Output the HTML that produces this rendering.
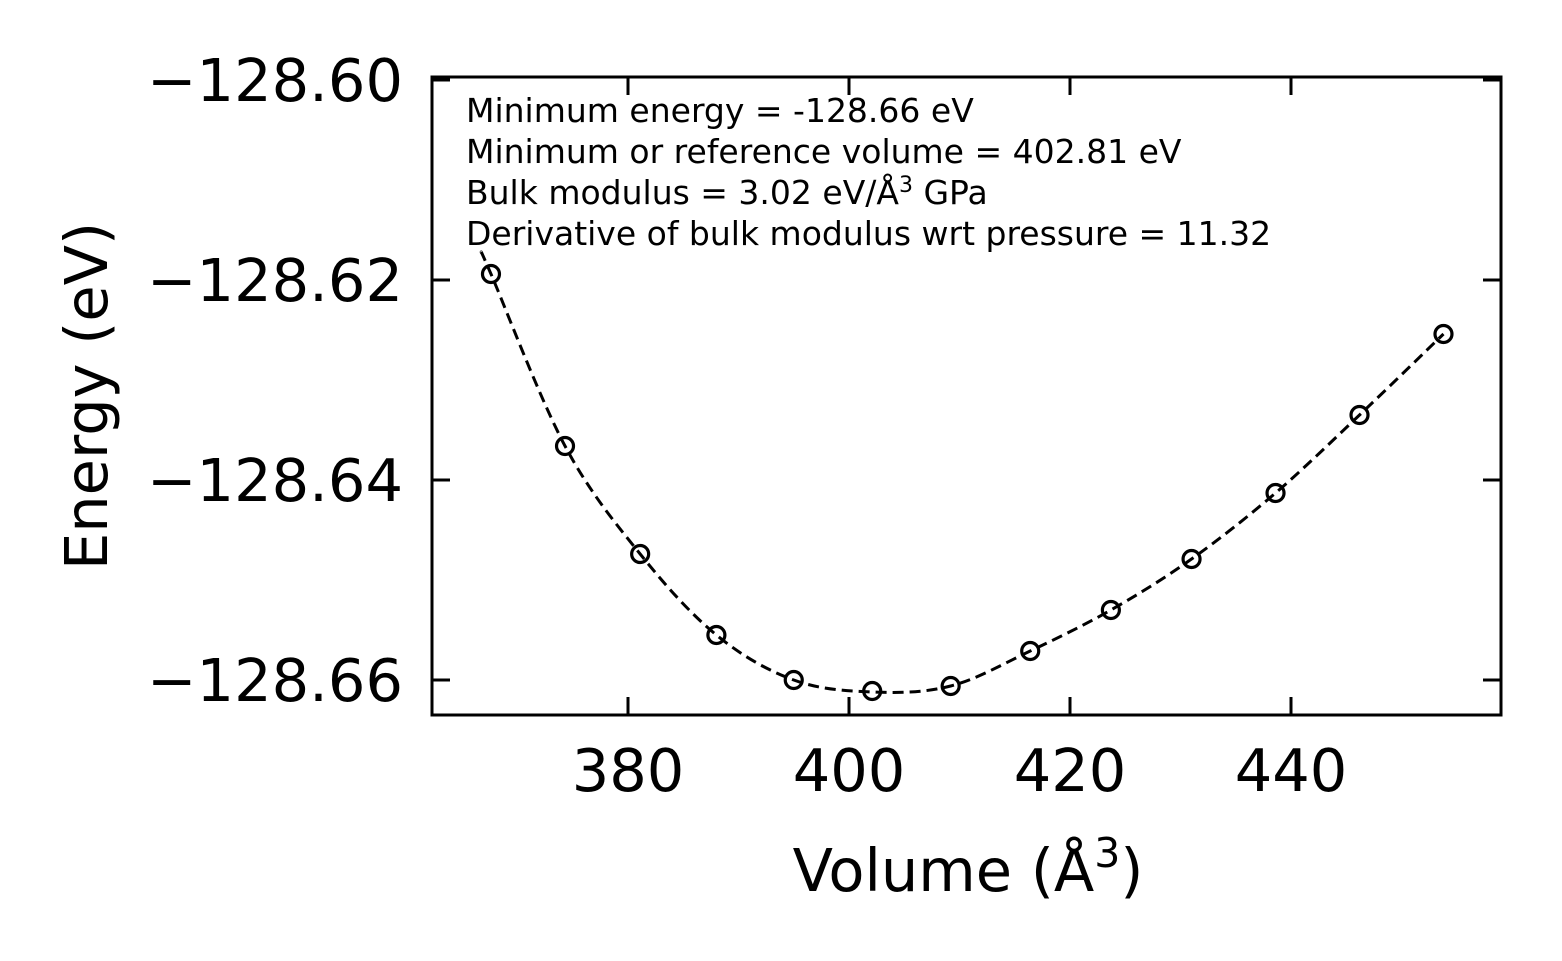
<!DOCTYPE html>
<html><head><meta charset="utf-8"><style>
html,body{margin:0;padding:0;background:#fff;}
svg{display:block;font-family:"DejaVu Sans","Liberation Sans",sans-serif;}
</style></head><body>
<svg id="chart" width="1562" height="961" viewBox="0 0 1562 961">
<g id="plot"></g>
</svg>
<script>
const volumes=[367.6,374.3,381.1,388.0,395.0,402.1,409.2,416.4,423.7,431.0,438.6,446.2,453.8];
const energies=[-128.6194,-128.6366,-128.6474,-128.6555,-128.6600,-128.6611,-128.6606,-128.6571,-128.6530,-128.6479,-128.6413,-128.6335,-128.6254];
const fitVolumes=[366.7,367.6,374.3,381.1,388.0,395.0,402.1,409.2,416.4,423.7,431.0,438.6,446.2,453.8];
const fitEnergies=[-128.6172,-128.6194,-128.6366,-128.6474,-128.6555,-128.6600,-128.6612,-128.6606,-128.6571,-128.6530,-128.6479,-128.6413,-128.6335,-128.6254];
const xTicks=[380,400,420,440];
const yTicks=[-128.60,-128.62,-128.64,-128.66];
const yTickLabels=["\u2212128.60","\u2212128.62","\u2212128.64","\u2212128.66"];
const notes=["Minimum energy = -128.66 eV","Minimum or reference volume = 402.81 eV","Bulk modulus = 3.02 eV/Å\u00B3 GPa","Derivative of bulk modulus wrt pressure = 11.32"];

const L=432,R=1501,T=77,B=715;
const xs=v=>628+(v-380)*11.05;
const ys=e=>80-(e+128.60)*10000;
const NS="http://www.w3.org/2000/svg";
const g=document.getElementById('plot');
function mk(t,a){const el=document.createElementNS(NS,t);for(const k in a)el.setAttribute(k,a[k]);g.appendChild(el);return el;}

const P=fitVolumes.map((v,i)=>[xs(v),ys(fitEnergies[i])]);
let d=`M${P[0][0]},${P[0][1]}`;
for(let i=0;i<P.length-1;i++){const p0=P[i-1]||P[i],p1=P[i],p2=P[i+1],p3=P[i+2]||P[i+1];
d+=` C${p1[0]+(p2[0]-p0[0])/6},${p1[1]+(p2[1]-p0[1])/6} ${p2[0]-(p3[0]-p1[0])/6},${p2[1]-(p3[1]-p1[1])/6} ${p2[0]},${p2[1]}`;}
const curve=mk('path',{d:d,fill:'none',stroke:'#000','stroke-width':3,'stroke-dasharray':'11,6'});



volumes.forEach((v,i)=>{const c=mk('circle',{cx:xs(v),cy:ys(energies[i]),r:8.5,fill:'none',stroke:'#000','stroke-width':3.2});

});

const frame=mk('rect',{x:L,y:T,width:R-L,height:B-T,fill:'none',stroke:'#000','stroke-width':3});



xTicks.forEach(v=>{const x=xs(v);
mk('line',{x1:x,y1:B,x2:x,y2:B-18,stroke:'#000','stroke-width':3});
mk('line',{x1:x,y1:T,x2:x,y2:T+18,stroke:'#000','stroke-width':3});
const t=mk('text',{x:x,y:791,'font-size':59,'text-anchor':'middle'});t.textContent=v;

});

yTicks.forEach((v,i)=>{const y=ys(v);
mk('line',{x1:L,y1:y,x2:L+18,y2:y,stroke:'#000','stroke-width':3});
mk('line',{x1:R,y1:y,x2:R-18,y2:y,stroke:'#000','stroke-width':3});
const t=mk('text',{x:403,y:y+21,'font-size':59,'text-anchor':'end'});t.textContent=yTickLabels[i];

});

const xl=mk('text',{x:968,y:891,'font-size':59,'text-anchor':'middle'});
xl.innerHTML='Volume (Å<tspan font-size="41" dy="-24">3</tspan><tspan dy="24">)</tspan>';



const yl=mk('text',{x:0,y:0,'font-size':59,'text-anchor':'middle',transform:'translate(107,396) rotate(-90)'});
yl.textContent='Energy (eV)';



notes.forEach((s,i)=>{const t=mk('text',{x:466,y:122+i*41,'font-size':33});
if(i===2){t.innerHTML='Bulk modulus = 3.02 eV/Å<tspan font-size="22" dy="-12">3</tspan><tspan dy="12"> GPa</tspan>';}else t.textContent=s;

});
</script>
</body></html>
